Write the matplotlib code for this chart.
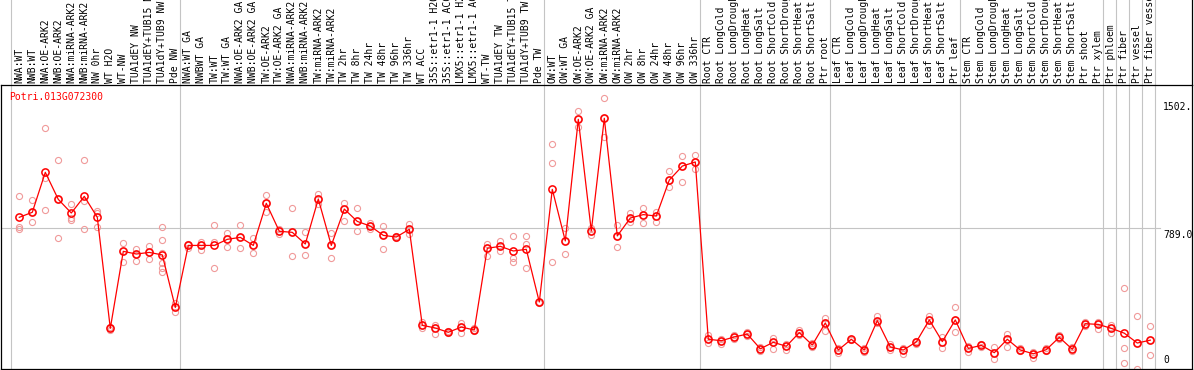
import numpy as np
import matplotlib
matplotlib.use("Agg")
import matplotlib.pyplot as plt
import matplotlib.transforms as mtransforms

gene = "Potri.013G072300"

samples = [
    "NWA:WT", "NWB:WT", "NWA:OE-ARK2", "NWB:OE-ARK2", "NWA:miRNA-ARK2", "NWB:miRNA-ARK2",
    "NW 0hr", "WT H2O", "WT-NW", "TUA1dEY NW", "TUA1dEY+TUB15 NW", "TUA1dY+TUB9 NW", "Pde NW",
    "NWA:WT GA", "NWBWT GA", "TW:WT", "TW:WT GA", "NWA:OE-ARK2 GA", "NWB:OE-ARK2 GA",
    "TW:OE-ARK2", "TW:OE-ARK2 GA", "NWA:miRNA-ARK2 GA", "NWB:miRNA-ARK2 GA", "TW:miRNA-ARK2",
    "TW:miRNA-ARK2", "TW 2hr", "TW 8hr", "TW 24hr", "TW 48hr", "TW 96hr", "TW 336hr", "WT ACC",
    "35S::etr1-1 H2O", "35S::etr1-1 ACC", "LMX5::etr1-1 H2O", "LMX5::etr1-1 ACC", "WT-TW",
    "TUA1dEY TW", "TUA1dEY+TUB15 TW", "TUA1dY+TUB9 TW", "Pde TW",
    "OW:WT", "OW:WT GA", "OW:OE-ARK2", "OW:OE-ARK2 GA", "OW:miRNA-ARK2", "OW:miRNA-ARK2",
    "OW 2hr", "OW 8hr", "OW 24hr", "OW 48hr", "OW 96hr", "OW 336hr",
    "Root CTR", "Root LongCold", "Root LongDrought", "Root LongHeat", "Root LongSalt",
    "Root ShortCold", "Root ShortDrought", "Root ShortHeat", "Root ShortSalt", "Ptr root",
    "Leaf CTR", "Leaf LongCold", "Leaf LongDrought", "Leaf LongHeat", "Leaf LongSalt",
    "Leaf ShortCold", "Leaf ShortDrought", "Leaf ShortHeat", "Leaf ShortSalt", "Ptr leaf",
    "Stem CTR", "Stem LongCold", "Stem LongDrought", "Stem LongHeat", "Stem LongSalt",
    "Stem ShortCold", "Stem ShortDrought", "Stem ShortHeat", "Stem ShortSalt", "Ptr shoot",
    "Ptr xylem", "Ptr phloem", "Ptr fiber", "Ptr vessel", "Ptr fiber vessel",
]

mean_vals = [
    847, 875, 1098, 947, 871, 964, 847, 227, 657, 642,
    651, 637, 344, 690, 690, 690, 724, 735, 690, 925,
    769, 763, 698, 949, 690, 893, 824, 798, 746, 737,
    780, 244, 229, 205, 234, 218, 674, 685, 659, 668,
    374, 1003, 715, 1394, 771, 1400, 743, 843, 862, 854,
    1055, 1133, 1156, 166, 158, 179, 195, 113, 149, 127,
    203, 134, 257, 106, 166, 106, 270, 123, 106, 151,
    274, 153, 274, 115, 132, 91, 166, 106, 85, 108,
    177, 110, 253, 249, 227, 200, 145, 161,
]

replicates = [
    [964, 795, 783], [944, 819, 875], [1344, 1065, 888], [1165, 730, 947], [920, 845, 830],
    [1165, 938, 780], [882, 870, 793], [236, 227, 220], [702, 657, 599], [670, 642, 605],
    [687, 651, 612], [791, 718, 649, 590, 562, 540], [367, 344, 320], [700, 690, 675],
    [711, 690, 666], [802, 711, 562], [757, 724, 683], [802, 735, 674], [730, 690, 649],
    [970, 925, 877], [780, 769, 755], [897, 763, 631], [763, 698, 637], [977, 949, 920],
    [757, 690, 618], [925, 893, 826], [897, 824, 769], [817, 798, 782], [800, 746, 668],
    [745, 737, 730], [808, 780, 752], [264, 244, 227], [246, 229, 194], [210, 205, 200],
    [259, 234, 199], [227, 218, 211], [700, 674, 629], [716, 685, 659], [741, 618, 599],
    [743, 696, 562], [374, 374, 370], [1255, 1148, 596], [786, 715, 640], [1441, 1394, 1350],
    [786, 771, 748], [1511, 1400, 1297], [804, 743, 679], [869, 843, 823], [901, 862, 813],
    [878, 854, 823], [1106, 1055, 1015], [1189, 1133, 1042], [1195, 1156, 1117],
    [190, 166, 147], [170, 158, 140], [190, 179, 170], [205, 195, 185], [125, 113, 99],
    [171, 149, 113], [140, 127, 106], [218, 203, 190], [145, 134, 125], [286, 257, 214],
    [120, 106, 88], [170, 166, 160], [115, 106, 97], [298, 270, 255], [138, 123, 106],
    [120, 106, 84], [158, 151, 140], [296, 274, 246], [177, 153, 115], [344, 274, 205],
    [130, 115, 97], [140, 132, 125], [121, 91, 56], [195, 166, 121], [115, 106, 99],
    [95, 85, 63], [115, 108, 102], [190, 177, 166], [121, 110, 102], [264, 253, 242],
    [264, 249, 222], [246, 227, 203], [451, 115, 34], [294, 147, 2], [238, 160, 76],
]

# group boundaries (index of first sample in a block)
group_starts = [0, 13, 41, 53, 63, 73, 84, 85, 86, 87, 88]
ytick_vals = [1502, 789, 0]
ytick_txt = ["1502.", "789.0", "0"]

W, H = 1194, 370
fig = plt.figure(figsize=(W / 100, H / 100), dpi=100)
ax = fig.add_axes([1 / W, 1 / H, 1191 / W, 284 / H])
x0 = -18.3 / 13
ax.set_xlim(x0, x0 + 1191 / 13)
ax.set_ylim(0, 284 / 0.1791)
ax.set_xticks([])
ax.set_yticks([])
for s in ax.spines.values():
    s.set_linewidth(0.9)
    s.set_color("black")

mono = "DejaVu Sans Mono"
grid_c = "#c4c4c4"
top_ext = 1 + 85 / 284

for g in group_starts:
    ax.axvline(g - 0.62, ymin=0, ymax=top_ext, clip_on=False, color=grid_c, lw=0.8, zorder=0)
ax.axhline(789, xmin=0, xmax=(1160 - 1) / 1191, color=grid_c, lw=0.8, zorder=0)
ax.plot([1, 1], [1, top_ext], transform=ax.transAxes, clip_on=False, color="black", lw=0.9)

x = np.arange(len(samples))
for i, reps in enumerate(replicates):
    ax.plot([i] * len(reps), reps, "o", ms=4.4, mfc="none", mec="#f09a9a", mew=0.8, zorder=2)
ax.plot(x, mean_vals, "-", color="#ff0000", lw=0.9, zorder=3)
ax.plot(x, mean_vals, "o", ms=5.2, mfc="none", mec="#ff0000", mew=1.1, zorder=4)

trans = mtransforms.blended_transform_factory(ax.transData, ax.transAxes)
for i, lab in enumerate(samples):
    ax.text(i, 1 + 2 / 284, lab, transform=trans, rotation=90, ha="center", va="bottom",
            fontsize=7, family=mono, clip_on=False)

ax.text(8 / 1191, 1 - 7 / 284, gene, transform=ax.transAxes, color="#ff0000",
        fontsize=7, family=mono, ha="left", va="top")

ytrans = mtransforms.blended_transform_factory(ax.transAxes, ax.transData)
for v, t in zip(ytick_vals, ytick_txt):
    if v == 0:
        ax.text((1163 - 1) / 1191, 22, t, transform=ytrans, fontsize=7, family=mono,
                ha="left", va="bottom")
    else:
        ax.text((1163 - 1) / 1191, v - 12, t, transform=ytrans, fontsize=7, family=mono,
                ha="left", va="top")

fig.savefig("out.png", dpi=100)
